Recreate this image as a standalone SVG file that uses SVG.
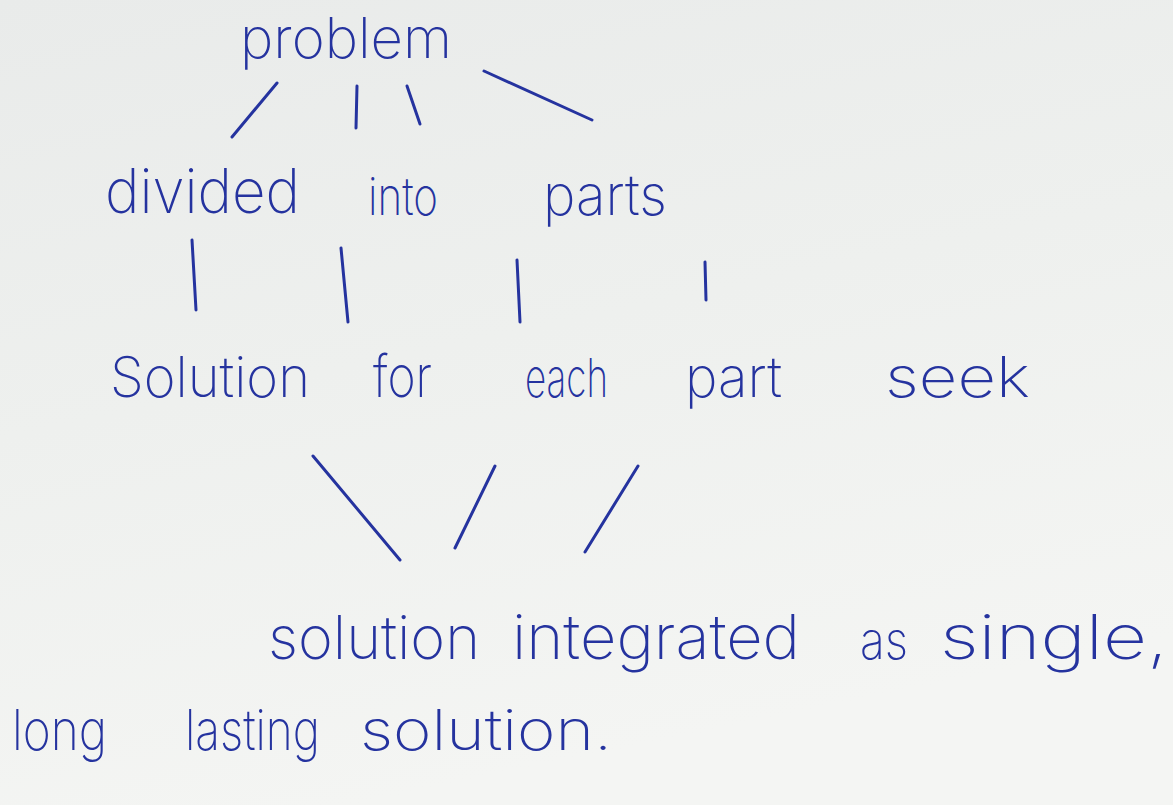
<svg xmlns="http://www.w3.org/2000/svg" width="1173" height="805" viewBox="0 0 1173 805">
<defs>
<linearGradient id="paper" x1="0" y1="0" x2="0.3" y2="1">
<stop offset="0" stop-color="#e9ebea"/>
<stop offset="0.5" stop-color="#eef0ee"/>
<stop offset="1" stop-color="#f4f5f3"/>
</linearGradient>
<style>
.ink{fill:#25339f;font-family:Inter,"Liberation Sans","DejaVu Sans",sans-serif;font-weight:200}
.ln{stroke:#25339f;stroke-width:3;stroke-linecap:round;fill:none}
</style>
</defs>
<rect width="1173" height="805" fill="url(#paper)"/>
<g id="connectors">
<line class="ln" x1="232" y1="137" x2="277" y2="83"/>
<line class="ln" x1="357" y1="86" x2="356" y2="128"/>
<line class="ln" x1="407" y1="86" x2="420" y2="124"/>
<line class="ln" x1="484" y1="71" x2="592" y2="120"/>
<line class="ln" x1="192" y1="240" x2="196" y2="310"/>
<line class="ln" x1="341" y1="248" x2="348" y2="322"/>
<line class="ln" x1="517" y1="260" x2="520" y2="322"/>
<line class="ln" x1="705" y1="262" x2="706" y2="300"/>
<line class="ln" x1="313" y1="456" x2="400" y2="560"/>
<line class="ln" x1="495" y1="466" x2="455" y2="548"/>
<line class="ln" x1="638" y1="466" x2="585" y2="552"/>
</g>
<g id="node-problem">
<text class="ink" x="240" y="58" font-size="56" textLength="212" lengthAdjust="spacingAndGlyphs">problem</text>
</g>
<g id="node-divided">
<text class="ink" x="105" y="213" font-size="62" textLength="195" lengthAdjust="spacingAndGlyphs">divided</text>
<text class="ink" x="368" y="215" font-size="52" textLength="70" lengthAdjust="spacingAndGlyphs">into</text>
<text class="ink" x="543" y="215" font-size="56" textLength="124" lengthAdjust="spacingAndGlyphs">parts</text>
</g>
<g id="node-solution-each">
<text class="ink" x="110" y="397" font-size="56" textLength="200" lengthAdjust="spacingAndGlyphs">Solution</text>
<text class="ink" x="373" y="397" font-size="58" textLength="59" lengthAdjust="spacingAndGlyphs">for</text>
<text class="ink" x="525" y="397" font-size="54" textLength="83" lengthAdjust="spacingAndGlyphs">each</text>
<text class="ink" x="685" y="397" font-size="56" textLength="97" lengthAdjust="spacingAndGlyphs">part</text>
<text class="ink" x="885" y="397" font-size="56" textLength="145" lengthAdjust="spacingAndGlyphs">seek</text>
</g>
<g id="node-integrated">
<text class="ink" x="268" y="659" font-size="60" textLength="212" lengthAdjust="spacingAndGlyphs">solution</text>
<text class="ink" x="512" y="659" font-size="62" textLength="288" lengthAdjust="spacingAndGlyphs">integrated</text>
<text class="ink" x="860" y="659" font-size="52" textLength="48" lengthAdjust="spacingAndGlyphs">as</text>
<text class="ink" x="940" y="659" font-size="62" textLength="228" lengthAdjust="spacingAndGlyphs">single,</text>
<text class="ink" x="12" y="750" font-size="56" textLength="95" lengthAdjust="spacingAndGlyphs">long</text>
<text class="ink" x="185" y="750" font-size="56" textLength="135" lengthAdjust="spacingAndGlyphs">lasting</text>
<text class="ink" x="360" y="750" font-size="56" textLength="252" lengthAdjust="spacingAndGlyphs">solution.</text>
</g>
</svg>
